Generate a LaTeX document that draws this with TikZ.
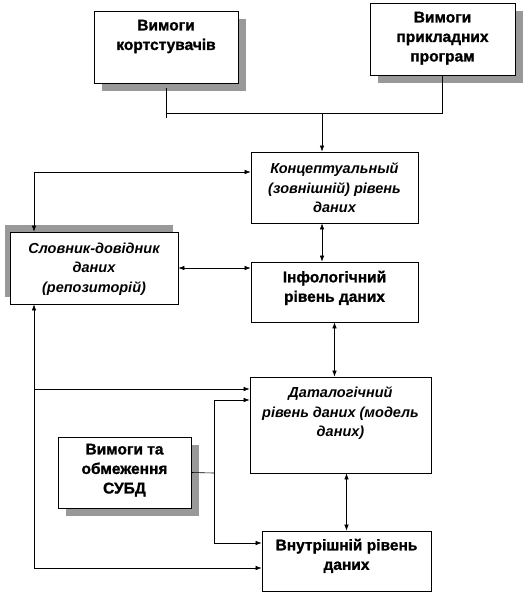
\documentclass[tikz,border=0pt]{standalone}
\usepackage{fontspec}
\setmainfont{Liberation Sans}
\newfontfamily\heavyfont[FakeBold=1.2]{Liberation Sans Bold}
\usetikzlibrary{arrows.meta,shadows,calc}
\pgfdeclarelayer{back}
\pgfdeclarelayer{front}
\pgfsetlayers{back,main,front}
\begin{document}
\begin{tikzpicture}[x=1pt,y=-1pt,
  box/.style={draw, line width=0.8pt, fill=white, inner sep=0pt},
  shd/.style={drop shadow={shadow xshift=8pt, shadow yshift=-8pt, fill=black!40, opacity=1}},
  shdul/.style={drop shadow={shadow xshift=-5pt, shadow yshift=7pt, fill=black!40, opacity=1}},
  txt/.style={anchor=north, inner sep=0pt, align=center, font=\fontsize{15.5}{19.5}\selectfont\heavyfont},
  txti/.style={anchor=north, inner sep=0pt, align=center, font=\fontsize{14.5}{19.5}\selectfont\bfseries\itshape},
  conn/.style={line width=0.6pt},
  arr/.style={conn, -{Latex[length=6pt,width=4.5pt]}},
  darr/.style={conn, {Latex[length=6pt,width=4.5pt]}-{Latex[length=6pt,width=4.5pt]}}
]
\begin{pgfonlayer}{back}
\fill[white] (0,0) rectangle (524,594);
\end{pgfonlayer}
\useasboundingbox (0,0) rectangle (524,594);

% boxes
\node[box, shd, minimum width=144pt, minimum height=72pt] (b1) at (166,47) {};
\node[box, shd, minimum width=145pt, minimum height=72pt] (b2) at (442.5,39) {};
\node[box, minimum width=167pt, minimum height=71pt] (conc) at (334.5,187.5) {};
\node[box, minimum width=167pt, minimum height=60pt] (info) at (334.5,292) {};
\node[box, shdul, minimum width=168pt, minimum height=72pt] (slov) at (94,268) {};
\node[box, minimum width=181pt, minimum height=96pt] (dl) at (340.5,425) {};
\node[box, minimum width=169pt, minimum height=60pt] (int) at (346.5,561) {};
\node[box, shd, minimum width=133pt, minimum height=71pt] (subd) at (124.5,472.5) {};

% texts
\node[txt, yshift=-9pt] (t1) at (b1.north) {Вимоги\\кортстувачів};
\node[txt, yshift=-9pt] (t2) at (b2.north) {Вимоги\\прикладних\\програм};
\node[txti, yshift=-11pt] (tc) at (conc.north) {Концептуальный\\(зовнішній) рівень\\даних};
\node[txt, yshift=-9pt] (ti) at (info.north) {Інфологічний\\рівень даних};
\node[txti, yshift=-11pt] (ts) at (slov.north) {Словник-довідник\\даних\\(репозиторій)};
\node[txti, yshift=-10pt] (td) at (dl.north) {Даталогічний\\рівень даних (модель\\даних)};
\node[txt, yshift=-8pt] (tn) at (int.north) {Внутрішній рівень\\даних};
\node[txt, yshift=-7pt] (tb) at (subd.north) {Вимоги та\\обмеження\\СУБД};

% junction coordinates
\coordinate (j) at (322,113);
\coordinate (c1) at (34,172);
\coordinate (c2) at (34,568);
\coordinate (c3) at (34,389);
\coordinate (c4) at (214,473);
\coordinate (c5) at (214,400);
\coordinate (c6) at (214,543);
\coordinate (s1) at (166,88);

\begin{pgfonlayer}{front}
\draw[conn] (s1) -- ++(0,30);
\draw[conn] (b1.south |- j) -- (b2.south |- j) -- (b2.south);
\draw[arr] (j) -- (j |- conc.north);
\draw[darr] (j |- conc.south) -- (j |- info.north);
\draw[darr] (info.south) -- (info.south |- dl.north);
\draw[darr] (int.north |- dl.south) -- (int.north);
\draw[darr] (slov.east) -- (slov.east -| info.west);
\draw[darr] (c1 -| conc.west) -- (c1) -- (c1 |- slov.north);
\draw[arr] (c2) -- (c2 |- slov.south);
\draw[arr] (c2) -- (c2 -| int.west);
\draw[arr] (c3) -- (c3 -| dl.west);
\draw[conn] (subd.east) -- (c4);
\draw[arr] (c4) -- (c5) -- (c5 -| dl.west);
\draw[arr] (c4) -- (c6) -- (c6 -| int.west);
\end{pgfonlayer}
\end{tikzpicture}
\end{document}
